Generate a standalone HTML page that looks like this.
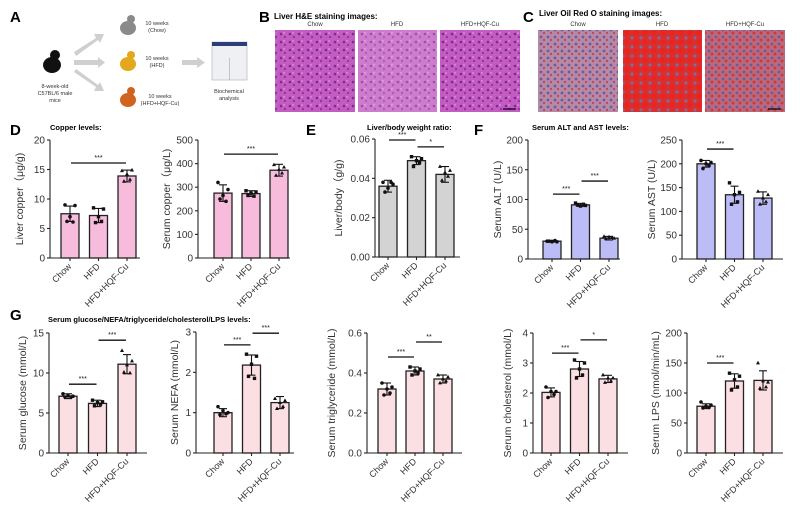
<!DOCTYPE html>
<html><head><meta charset="utf-8">
<style>
body{margin:0;background:#fff;width:800px;height:512px;overflow:hidden;font-family:"Liberation Sans",Arial,sans-serif}
svg{display:block}
text{font-family:"Liberation Sans",Arial,sans-serif}
</style></head>
<body>
<svg id="fig" width="800" height="512" viewBox="0 0 800 512" xmlns="http://www.w3.org/2000/svg">
<defs>
<pattern id="he" width="9" height="8" patternUnits="userSpaceOnUse"><rect width="9" height="8" fill="#c35bc2"/><circle cx="2" cy="2" r="1.3" fill="#7a2a8c"/><circle cx="6" cy="5" r="1.1" fill="#8a3396"/><circle cx="5" cy="1" r="0.8" fill="#e7a6e0"/></pattern>
<pattern id="ro" width="7" height="7" patternUnits="userSpaceOnUse"><rect width="7" height="7" fill="#b58aa8"/><circle cx="2" cy="2" r="1.4" fill="#6a5b9a"/><circle cx="5" cy="5" r="1.2" fill="#c0485a"/></pattern>
<pattern id="ro2" width="9" height="9" patternUnits="userSpaceOnUse"><rect width="9" height="9" fill="#d8302e"/><circle cx="2" cy="2" r="1.5" fill="#7b6ea6"/><circle cx="6" cy="6" r="2.5" fill="#ee2020"/></pattern>
<pattern id="ro3" width="7" height="7" patternUnits="userSpaceOnUse"><rect width="7" height="7" fill="#b86a80"/><circle cx="2" cy="2" r="1.4" fill="#6a5b9a"/><circle cx="5" cy="5" r="1.5" fill="#d83535"/></pattern>
</defs>

<g>
<text x="10" y="22" font-size="15" font-weight="bold">A</text>
<g><ellipse cx="52" cy="65" rx="9" ry="8" fill="#111"/><circle cx="55" cy="55" r="5" fill="#111"/></g>
<text x="55" y="88" font-size="5.5" text-anchor="middle" fill="#333">8-week-old</text>
<text x="55" y="95" font-size="5.5" text-anchor="middle" fill="#333">C57BL/6 male</text>
<text x="55" y="102" font-size="5.5" text-anchor="middle" fill="#333">mice</text>
<g fill="#cfcfcf">
<polygon points="74,52 96,38 94,34 104,34 100,43 98,40 76,56"/>
<rect x="74" y="60" width="24" height="5"/><polygon points="98,57 105,62.5 98,68"/>
<polygon points="74,72 96,87 94,91 104,91 100,82 98,85 76,69"/>
<rect x="182" y="60" width="15" height="5"/><polygon points="197,57 205,62.5 197,68"/>
</g>
<g><ellipse cx="128" cy="28" rx="8" ry="7" fill="#8a8a8a"/><circle cx="131" cy="19" r="4" fill="#8a8a8a"/></g>
<g><ellipse cx="128" cy="64" rx="8" ry="7" fill="#e3a81b"/><circle cx="131" cy="55" r="4" fill="#e3a81b"/></g>
<g><ellipse cx="128" cy="100" rx="8" ry="7" fill="#d0641f"/><circle cx="131" cy="91" r="4" fill="#d0641f"/></g>
<g font-size="5.5" fill="#333" text-anchor="middle">
<text x="157" y="25">10 weeks</text><text x="157" y="32">(Chow)</text>
<text x="157" y="60">10 weeks</text><text x="157" y="67">(HFD)</text>
<text x="160" y="98">10 weeks</text><text x="160" y="105">(HFD+HQF-Cu)</text>
<text x="229" y="93">Biochemical</text><text x="229" y="100">analysis</text>
</g>
<g><rect x="212" y="42" width="35" height="38" fill="#eef0f4" stroke="#aab" stroke-width="0.6"/><rect x="212" y="42" width="35" height="4" fill="#2b3e7a"/><line x1="229.5" y1="58" x2="229.5" y2="80" stroke="#999" stroke-width="0.5"/></g>
</g>

<g>
<text x="259" y="22" font-size="15" font-weight="bold">B</text>
<text x="274" y="19" font-size="8" font-weight="bold">Liver H&amp;E staining images:</text>
<g font-size="6" text-anchor="middle" fill="#333"><text x="315" y="26">Chow</text><text x="397" y="26">HFD</text><text x="480" y="26">HFD+HQF-Cu</text></g>
<rect x="275" y="30" width="80" height="82" fill="url(#he)"/>
<rect x="358" y="30" width="79" height="82" fill="url(#he)" opacity="0.8"/>
<rect x="440" y="30" width="80" height="82" fill="url(#he)"/>
<line x1="503" y1="109" x2="516" y2="109" stroke="#000" stroke-width="1.2"/>
</g>
<g>
<text x="523" y="22" font-size="15" font-weight="bold">C</text>
<text x="539" y="16" font-size="8" font-weight="bold">Liver Oil Red O staining images:</text>
<g font-size="6" text-anchor="middle" fill="#333"><text x="578" y="26">Chow</text><text x="662" y="26">HFD</text><text x="745" y="26">HFD+HQF-Cu</text></g>
<rect x="538" y="30" width="80" height="82" fill="url(#ro)"/>
<rect x="623" y="30" width="79" height="82" fill="url(#ro2)"/>
<rect x="705" y="30" width="80" height="82" fill="url(#ro3)"/>
<line x1="768" y1="109" x2="781" y2="109" stroke="#000" stroke-width="1.2"/>
</g>

<g font-size="15" font-weight="bold">
<text x="10" y="135">D</text><text x="306" y="135">E</text><text x="474" y="135">F</text><text x="10" y="320">G</text>
</g>
<g font-size="7.5" font-weight="bold">
<text x="50" y="130">Copper levels:</text>
<text x="367" y="130">Liver/body weight ratio:</text>
<text x="532" y="130">Serum ALT and AST levels:</text>
<text x="48" y="322">Serum glucose/NEFA/triglyceride/cholesterol/LPS levels:</text>
</g>
<g id="charts"></g>
</svg>
<script>
const groups = ["Chow", "HFD", "HFD+HQF-Cu"];

const liverCuMeans = [7.5, 7.2, 13.9];
const liverCuSds = [1.3, 1.2, 1.0];
const liverCuPts = [[9, 8.9, 6.2, 6.1, 7.0], [8.5, 8.3, 6.0, 6.2, 7.0], [14.8, 14.9, 13.0, 13.3, 14.2]];
const liverCuTicks = [0, 5, 10, 15, 20];
const liverCuSigs = [[0, 2, 16.1, "***"]];

const serumCuMeans = [275, 273, 372];
const serumCuSds = [35, 12, 25];
const serumCuPts = [[320, 290, 250, 240, 265], [285, 280, 265, 262, 275], [395, 385, 350, 360, 375]];
const serumCuTicks = [0, 100, 200, 300, 400, 500];
const serumCuSigs = [[0, 2, 440, "***"]];

const lbMeans = [0.036, 0.049, 0.042];
const lbSds = [0.003, 0.002, 0.004];
const lbPts = [[0.038, 0.037, 0.033, 0.038, 0.035], [0.051, 0.05, 0.046, 0.048, 0.049], [0.046, 0.044, 0.039, 0.041, 0.043]];
const lbTicks = [0, 0.02, 0.04, 0.06];
const lbSigs = [[0, 1, 0.0595, "***"], [1, 2, 0.056, "*"]];

const altMeans = [30, 91, 35];
const altSds = [1.5, 2.5, 3];
const altPts = [[30, 29, 30, 31, 29], [94, 90, 91, 92, 89], [38, 35, 34, 36, 37]];
const altTicks = [0, 50, 100, 150, 200];
const altSigs = [[0, 1, 109, "***"], [1, 2, 131, "***"]];

const astMeans = [200, 135, 128];
const astSds = [7, 18, 13];
const astPts = [[207, 203, 190, 196, 200], [160, 140, 115, 120, 135], [142, 135, 115, 120, 128]];
const astTicks = [0, 50, 100, 150, 200, 250];
const astSigs = [[0, 1, 231, "***"]];

const gluMeans = [7.1, 6.2, 11.1];
const gluSds = [0.3, 0.4, 1.2];
const gluPts = [[7.4, 7.1, 7.0, 7.0, 7.2], [6.6, 6.4, 5.9, 6.1, 6.3], [12.8, 11.5, 10.1, 10.0, 11.0]];
const gluTicks = [0, 5, 10, 15];
const gluSigs = [[0, 1, 8.6, "***"], [1, 2, 14.1, "***"]];

const nefaMeans = [1.0, 2.18, 1.25];
const nefaSds = [0.1, 0.25, 0.15];
const nefaPts = [[1.15, 1.0, 0.95, 0.97, 1.05], [2.45, 2.4, 1.9, 1.85, 2.2], [1.35, 1.3, 1.1, 1.15, 1.25]];
const nefaTicks = [0, 1, 2, 3];
const nefaSigs = [[0, 1, 2.68, "***"], [1, 2, 2.97, "***"]];

const tgMeans = [0.32, 0.41, 0.37];
const tgSds = [0.03, 0.02, 0.02];
const tgPts = [[0.35, 0.33, 0.29, 0.3, 0.32], [0.43, 0.42, 0.39, 0.4, 0.41], [0.39, 0.38, 0.35, 0.36, 0.37]];
const tgTicks = [0, 0.2, 0.4, 0.6];
const tgSigs = [[0, 1, 0.48, "***"], [1, 2, 0.555, "**"]];

const cholMeans = [2.02, 2.8, 2.47];
const cholSds = [0.15, 0.25, 0.12];
const cholPts = [[2.2, 2.05, 1.85, 1.95, 2.05], [3.1, 3.0, 2.5, 2.6, 2.8], [2.6, 2.5, 2.35, 2.4, 2.5]];
const cholTicks = [0, 1, 2, 3, 4];
const cholSigs = [[0, 1, 3.33, "***"], [1, 2, 3.77, "*"]];

const lpsMeans = [78, 120, 121];
const lpsSds = [4, 12, 16];
const lpsPts = [[85, 80, 75, 76, 78], [133, 128, 105, 110, 122], [150, 118, 108, 110, 120]];
const lpsTicks = [0, 50, 100, 150, 200];
const lpsSigs = [[0, 1, 150, "***"]];

const NS = "http://www.w3.org/2000/svg";
const root = document.getElementById("charts");
function mk(tag, attrs, parent) {
  const e = document.createElementNS(NS, tag);
  for (const k in attrs) e.setAttribute(k, attrs[k]);
  (parent || root).appendChild(e);
  return e;
}
function fmt(v, d) { return d ? v.toFixed(d) : String(v); }

function chart(name, cfg, means, sds, pts, ticks, sigs) {
  const g = mk("g", {});
  
  
  const ymax = ticks[ticks.length - 1];
  const y = v => cfg.y0 - (v / ymax) * (cfg.y0 - cfg.y1);
  const x = i => cfg.c0 + cfg.step * i;
  const bw = 18;
  means.forEach((m, i) => {
    const r = mk("rect", {x: x(i) - bw / 2, y: y(m), width: bw, height: cfg.y0 - y(m), fill: cfg.color, stroke: "#222", "stroke-width": 1.3}, g);
    
    
  });
  means.forEach((m, i) => {
    const e = mk("g", {stroke: "#111", "stroke-width": 1.1}, g);
    
    
    mk("line", {x1: x(i), x2: x(i), y1: y(m - sds[i]), y2: y(m + sds[i])}, e);
    mk("line", {x1: x(i) - 4, x2: x(i) + 4, y1: y(m + sds[i]), y2: y(m + sds[i])}, e);
    mk("line", {x1: x(i) - 4, x2: x(i) + 4, y1: y(m - sds[i]), y2: y(m - sds[i])}, e);
  });
  const jit = [-5, 5, -3, 3, 0];
  pts.forEach((arr, i) => arr.forEach((v, j) => {
    const px = x(i) + jit[j], py = y(v);
    let p;
    if (i === 0) p = mk("circle", {cx: px, cy: py, r: 1.8, fill: "#111"}, g);
    else if (i === 1) p = mk("rect", {x: px - 1.7, y: py - 1.7, width: 3.4, height: 3.4, fill: "#111"}, g);
    else p = mk("polygon", {points: `${px},${py - 2.2} ${px - 2},${py + 1.4} ${px + 2},${py + 1.4}`, fill: "#111"}, g);
    
    
  }));
  const ax = mk("g", {stroke: "#222", "stroke-width": 1.1}, g);
  
  
  mk("line", {x1: cfg.ax, x2: cfg.ax, y1: cfg.y1, y2: cfg.y0}, ax);
  mk("line", {x1: cfg.ax, x2: cfg.xend, y1: cfg.y0, y2: cfg.y0}, ax);
  ticks.forEach(t => {
    mk("line", {x1: cfg.ax - 3, x2: cfg.ax, y1: y(t), y2: y(t)}, ax);
    const tl = mk("text", {x: cfg.ax - 5, y: y(t) + 3.5, "font-size": 10, "text-anchor": "end", fill: "#333"}, g);
    tl.textContent = fmt(t, cfg.dec);
    
    
  });
  groups.forEach((gr, i) => {
    mk("line", {x1: x(i), x2: x(i), y1: cfg.y0, y2: cfg.y0 + 3}, ax);
    const tl = mk("text", {x: x(i) + 2, y: cfg.y0 + 9, "font-size": 9, "text-anchor": "end", fill: "#333", transform: `rotate(-45 ${x(i) + 2} ${cfg.y0 + 9})`}, g);
    tl.textContent = gr;
    
    
  });
  const cy = (cfg.y0 + cfg.y1) / 2, tx = cfg.ax - cfg.tOff;
  const yt = mk("text", {x: tx, y: cy, "font-size": 10.5, "text-anchor": "middle", fill: "#333", transform: `rotate(-90 ${tx} ${cy})`}, g);
  yt.textContent = cfg.label;
  
  
  sigs.forEach(s => {
    const sy = y(s[2]);
    const l = mk("line", {x1: x(s[0]) + 1, x2: x(s[1]) - 1, y1: sy, y2: sy, stroke: "#111", "stroke-width": 1.3}, g);
    
    
    const st = mk("text", {x: (x(s[0]) + x(s[1])) / 2, y: sy - 3, "font-size": 7, "text-anchor": "middle", fill: "#111"}, g);
    st.textContent = s[3];
    
    
  });
}

chart("liver-copper-chart", {ax: 50, xend: 140, y0: 258, y1: 140, c0: 70, step: 28.5, color: "#f7bbdb", label: "Liver copper（μg/g)", tOff: 27, dec: 0}, liverCuMeans, liverCuSds, liverCuPts, liverCuTicks, liverCuSigs);
chart("serum-copper-chart", {ax: 198, xend: 290, y0: 258, y1: 140, c0: 223, step: 28, color: "#f7bbdb", label: "Serum copper（μg/L)", tOff: 28, dec: 0}, serumCuMeans, serumCuSds, serumCuPts, serumCuTicks, serumCuSigs);
chart("liver-body-ratio-chart", {ax: 375, xend: 460, y0: 257, y1: 139, c0: 388, step: 28.5, color: "#d3d3d3", label: "Liver/body（g/g)", tOff: 33, dec: 2}, lbMeans, lbSds, lbPts, lbTicks, lbSigs);
chart("serum-alt-chart", {ax: 528, xend: 620, y0: 259, y1: 140, c0: 552, step: 28.5, color: "#bcbcf6", label: "Serum ALT (U/L)", tOff: 27, dec: 0}, altMeans, altSds, altPts, altTicks, altSigs);
chart("serum-ast-chart", {ax: 682, xend: 783, y0: 259, y1: 140, c0: 706, step: 28.5, color: "#bcbcf6", label: "Serum AST (U/L)", tOff: 27, dec: 0}, astMeans, astSds, astPts, astTicks, astSigs);
chart("serum-glucose-chart", {ax: 49, xend: 147, y0: 453, y1: 333, c0: 68, step: 29.5, color: "#fcdfe2", label: "Serum glucose (mmol/L)", tOff: 23, dec: 0}, gluMeans, gluSds, gluPts, gluTicks, gluSigs);
chart("serum-nefa-chart", {ax: 196, xend: 294, y0: 453, y1: 332, c0: 223, step: 28.5, color: "#fcdfe2", label: "Serum NEFA (mmol/L)", tOff: 18, dec: 0}, nefaMeans, nefaSds, nefaPts, nefaTicks, nefaSigs);
chart("serum-triglyceride-chart", {ax: 367, xend: 462, y0: 453, y1: 333, c0: 387, step: 28, color: "#fcdfe2", label: "Serum triglyceride (mmol/L)", tOff: 32, dec: 1}, tgMeans, tgSds, tgPts, tgTicks, tgSigs);
chart("serum-cholesterol-chart", {ax: 533, xend: 628, y0: 453, y1: 333, c0: 551, step: 28.5, color: "#fcdfe2", label: "Serum cholesterol (mmol/L)", tOff: 22, dec: 0}, cholMeans, cholSds, cholPts, cholTicks, cholSigs);
chart("serum-lps-chart", {ax: 687, xend: 783, y0: 453, y1: 333, c0: 706, step: 28.5, color: "#fcdfe2", label: "Serum LPS (nmol/min/mL)", tOff: 28, dec: 0}, lpsMeans, lpsSds, lpsPts, lpsTicks, lpsSigs);
</script>
</body></html>
